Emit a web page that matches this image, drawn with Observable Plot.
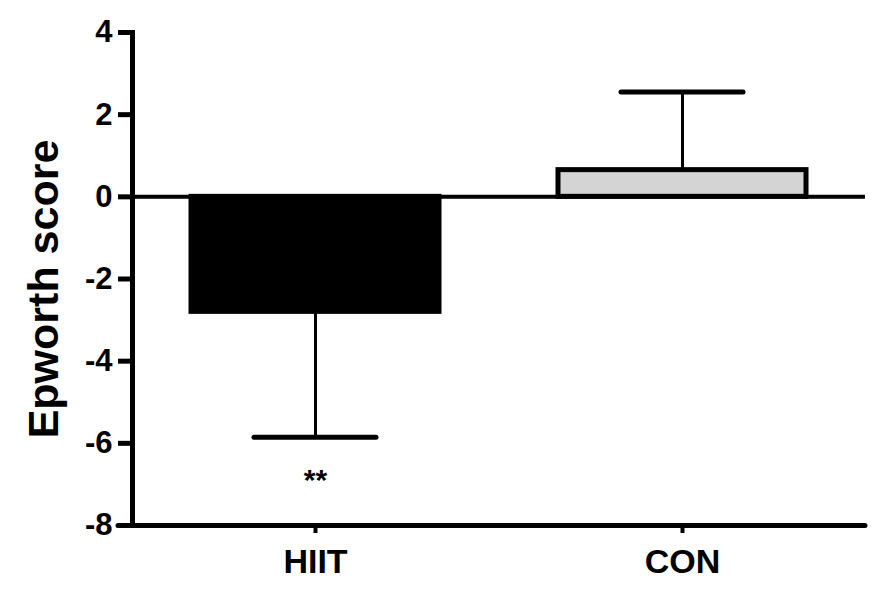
<!DOCTYPE html>
<html>
<head>
<meta charset="utf-8">
<script src="https://cdn.jsdelivr.net/npm/d3@7"></script>
<script src="https://cdn.jsdelivr.net/npm/@observablehq/plot@0.6"></script>
<style>
  html, body { margin: 0; padding: 0; background: #fff; }
  #chart svg { display: block; }
</style>
</head>
<body>
<div id="chart"></div>
<script>
const groups = ["HIIT", "CON"];
const means = [-2.8, 0.65];
const errors = [3.05, 1.9];
const signif = ["**", ""];
const signifY = [-6.9, null];
const yTicks = [-8, -6, -4, -2, 0, 2, 4];
const yLabel = "Epworth score";
const fills = ["#000000", "#d4d4d4"];

const data = groups.map((g, i) => ({
  group: g,
  mean: means[i],
  end: means[i] < 0 ? means[i] - errors[i] : means[i] + errors[i],
  fill: fills[i],
  star: signif[i],
  starY: signifY[i]
}));

const font = "'Liberation Sans', Arial, Helvetica, sans-serif";

const chart = Plot.plot({
  width: 875,
  height: 595,
  marginLeft: 132,
  marginRight: 10,
  marginTop: 32,
  marginBottom: 70,
  style: { fontFamily: font, background: "#fff", color: "#000" },
  x: { domain: groups, paddingInner: 0.324, paddingOuter: 0.16, axis: null },
  y: { domain: [-8, 4], axis: null },
  marks: [
    Plot.barY(data, { x: "group", y: "mean", fill: "fill", stroke: "#000", strokeWidth: 5 }),
    Plot.ruleX(data, { x: "group", y1: "mean", y2: "end", stroke: "#000", strokeWidth: 3 }),
    Plot.tickY(data, { x: "group", y: "end", stroke: "#000", strokeWidth: 5, insetLeft: 63, insetRight: 63, strokeLinecap: "round" }),
    Plot.ruleY([0], { stroke: "#000", strokeWidth: 4 }),
    Plot.ruleY([-8], { stroke: "#000", strokeWidth: 5, insetLeft: -14, strokeLinecap: "round" }),
    Plot.text(data.filter(d => d.star), { x: "group", y: "starY", text: "star", fontSize: 30, fontWeight: "bold", lineAnchor: "middle", fill: "#000" }),
    Plot.frame({ anchor: "left", stroke: "#000", strokeWidth: 5 }),
    Plot.axisY({ ticks: yTicks, tickSize: 14, tickPadding: 6, stroke: "#000", strokeWidth: 5, fontSize: 31, fontWeight: "bold", label: null, tickFormat: d => String(d) }),
    Plot.axisX({ tickSize: 8, tickPadding: 15, stroke: "#000", strokeWidth: 4, fontSize: 34, fontWeight: "bold", label: null }),
    Plot.text([yLabel], { frameAnchor: "left", rotate: -90, dx: -88, dy: 10, fontSize: 43, fontWeight: "bold", textAnchor: "middle", lineAnchor: "middle", fill: "#000" })
  ]
});
document.getElementById("chart").appendChild(chart);
</script>
</body>
</html>
